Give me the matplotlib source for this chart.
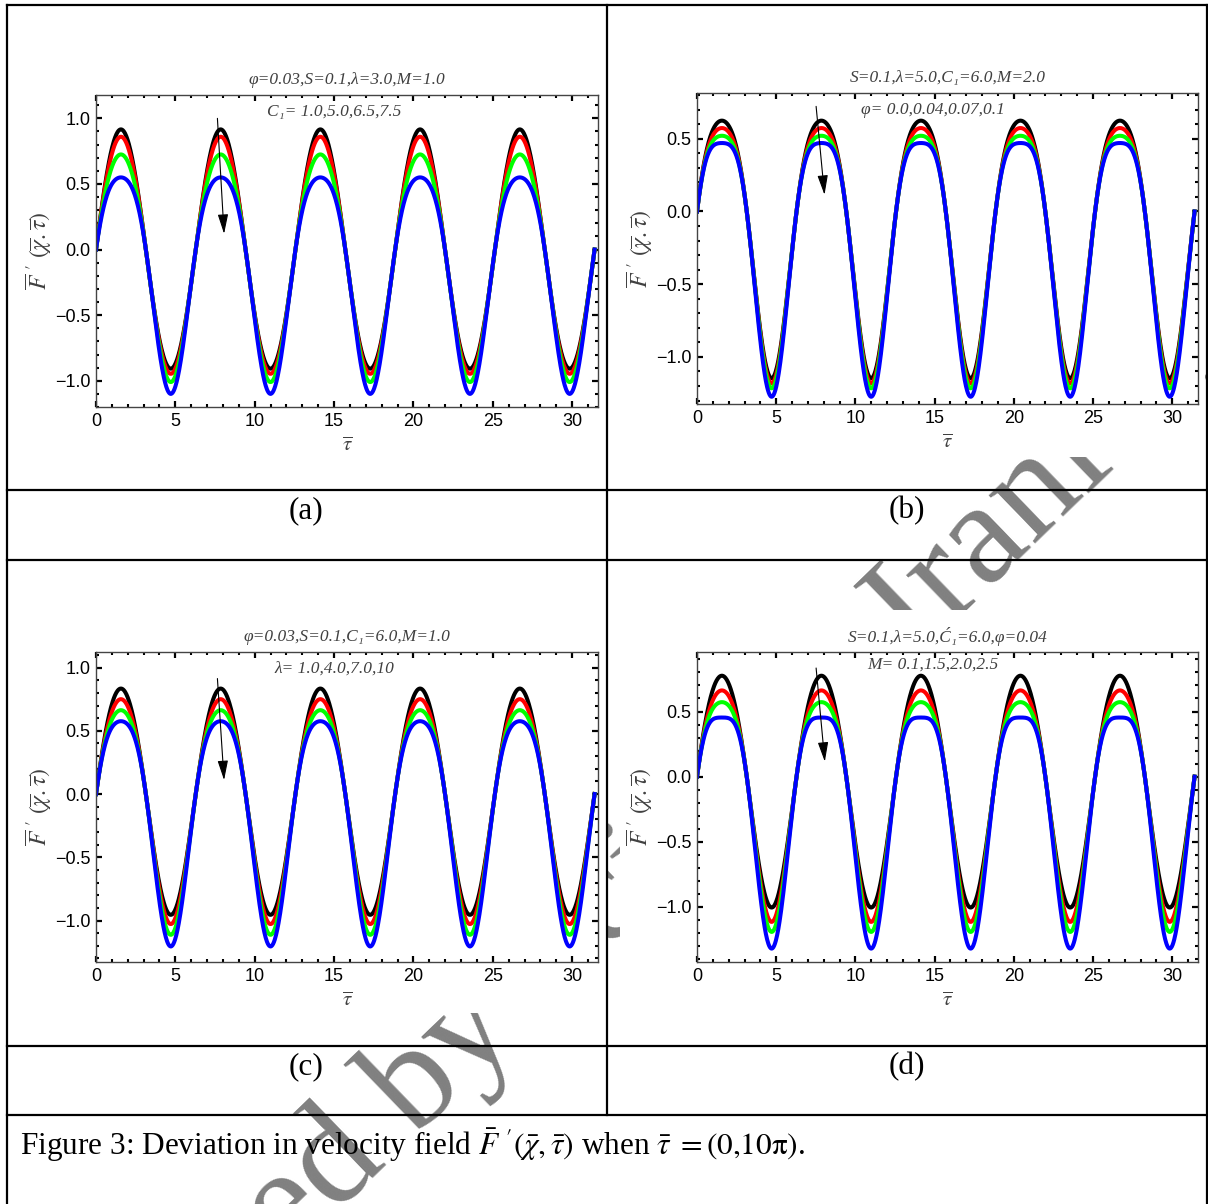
import numpy as np
import matplotlib
matplotlib.use("Agg")
import matplotlib.pyplot as plt
from matplotlib.patches import Rectangle
from matplotlib.ticker import MultipleLocator

plt.rcParams["mathtext.fontset"] = "stix"
plt.rcParams["font.family"] = ["Liberation Sans", "DejaVu Sans"]

W, H = 1208, 1204
SERIF = ["Liberation Serif", "DejaVu Serif"]

# peak / trough values of each curve (black, red, green, blue)
peak_a = [0.916, 0.86, 0.725, 0.55]
trough_a = [-0.908, -0.947, -1.01, -1.10]
peak_b = [0.625, 0.574, 0.521, 0.471]
trough_b = [-1.147, -1.182, -1.216, -1.274]
peak_c = [0.834, 0.75, 0.663, 0.576]
trough_c = [-0.955, -1.028, -1.113, -1.205]
peak_d = [0.775, 0.662, 0.572, 0.454]
trough_d = [-1.005, -1.115, -1.192, -1.32]

curve_colors = ["#000000", "#ff0000", "#00ff00", "#0000ff"]

titles = [
    "φ=0.03,S=0.1,λ=3.0,M=1.0",
    "S=0.1,λ=5.0,C₁=6.0,M=2.0",
    "φ=0.03,S=0.1,C₁=6.0,M=1.0",
    "S=0.1,λ=5.0,Ć₁=6.0,φ=0.04",
]
param_labels = [
    "C₁= 1.0,5.0,6.5,7.5",
    "φ= 0.0,0.04,0.07,0.1",
    "λ= 1.0,4.0,7.0,10",
    "M= 0.1,1.5,2.0,2.5",
]
panel_tags = ["(a)", "(b)", "(c)", "(d)"]
ylims = [(-1.20, 1.178), (-1.324, 0.815), (-1.328, 1.123), (-1.423, 0.957)]
label_pos = [(15.0, 1.048), (14.9, 0.70), (15.0, 0.994), (14.9, 0.86)]
arrow_start = [(7.65, 1.0), (7.52, 0.723), (7.65, 0.913), (7.52, 0.834)]
arrow_end = [(8.07, 0.12), (8.05, 0.115), (8.07, 0.11), (8.07, 0.115)]

# frame boxes in pixels: left, top, right, bottom
frames = [(96, 95, 598, 407), (697, 93, 1198, 404),
          (96, 652, 598, 962), (697, 652, 1198, 962)]
tag_xy = [(306, 511), (907, 511), (306, 1067), (907, 1067)]

tau = np.linspace(0, 10 * np.pi, 1200)


def velocity(tau, peak, trough):
    amp = (peak - trough) / 2.0
    skew = -(peak + trough) / 2.0
    s = np.sin(tau)
    return amp * s - skew * s ** 2


def minus_fmt(v, pos):
    return f"{v:.1f}".replace("-", "\u2212")


fig = plt.figure(figsize=(W / 100, H / 100), dpi=100)

bg = fig.add_axes([0, 0, 1, 1])
bg.set_xlim(0, W)
bg.set_ylim(H, 0)
bg.axis("off")
bg.set_zorder(-1)

# watermark, partly covered by the figure images
theta = 44
ux, uy = np.cos(np.radians(theta)), -np.sin(np.radians(theta))
px, py = 915, 655
gap = 37
bg.text(px, py, "Iranica", rotation=theta, rotation_mode="anchor",
        ha="left", va="baseline", fontsize=106, family=SERIF,
        color="#808080", zorder=1)
bg.text(px - gap * ux, py - gap * uy, "Accepted by Scientia", rotation=theta,
        rotation_mode="anchor", ha="right", va="baseline", fontsize=106,
        family=SERIF, color="#808080", zorder=1)

# opaque image areas
for x0, y0, x1, y1 in [(10, 62, 605, 470), (612, 62, 1205, 457),
                       (10, 612, 606, 1013), (620, 610, 1205, 1013)]:
    bg.add_patch(Rectangle((x0, y0), x1 - x0, y1 - y0, facecolor="white",
                           edgecolor="none", zorder=2))

# table rules
lw = 1.6
bg.plot([7, W], [5, 5], color="black", lw=lw, zorder=3)
for yy in [490, 560, 1046, 1115]:
    bg.plot([7, W], [yy, yy], color="black", lw=lw, zorder=3)
bg.plot([7, 7], [5, H], color="black", lw=lw, zorder=3)
bg.plot([1206.5, 1206.5], [5, H], color="black", lw=lw, zorder=3)
bg.plot([607, 607], [5, 1115], color="black", lw=lw, zorder=3)

for tag, (tx, ty) in zip(panel_tags, tag_xy):
    bg.text(tx, ty, tag, ha="center", va="center", fontsize=22.5,
            family=SERIF, zorder=4)

bg.text(20, 1145,
        r"Figure 3: Deviation in velocity field $\bar{F}\ '\left(\bar{\chi},\bar{\tau}\right)$"
        r" when $\bar{\tau}\;=\left(0{,}10\mathrm{\pi}\right)$.",
        ha="left", va="center", fontsize=22.5, family=SERIF, zorder=4)

peaks = [peak_a, peak_b, peak_c, peak_d]
troughs = [trough_a, trough_b, trough_c, trough_d]

for i in range(4):
    l, t, r, b = frames[i]
    ax = fig.add_axes([l / W, 1 - b / H, (r - l) / W, (b - t) / H])
    ax.set_zorder(1)
    for pk, tr, col in zip(peaks[i], troughs[i], curve_colors):
        ax.plot(tau, velocity(tau, pk, tr), color=col, lw=2.9)
    ax.set_xlim(0, 31.63)
    ax.set_ylim(*ylims[i])
    ax.xaxis.set_major_locator(MultipleLocator(5))
    ax.xaxis.set_minor_locator(MultipleLocator(1))
    ax.yaxis.set_major_locator(MultipleLocator(0.5))
    ax.yaxis.set_minor_locator(MultipleLocator(0.1))
    ax.yaxis.set_major_formatter(matplotlib.ticker.FuncFormatter(minus_fmt))
    ax.tick_params(which="both", direction="in", top=True, right=True,
                   color="black", labelsize=13, pad=4)
    ax.tick_params(which="major", length=4, width=1.6)
    ax.tick_params(which="minor", length=2.2, width=1.5)
    for sp in ax.spines.values():
        sp.set_color("#444444")
        sp.set_linewidth(1.0)
    h = b - t
    w = r - l
    ax.text(0.5, 1 + 15 / h, titles[i], transform=ax.transAxes, ha="center",
            va="center", fontsize=12.5, style="italic", family=SERIF,
            color="#404040")
    ax.text(*label_pos[i], param_labels[i], ha="center", va="center",
            fontsize=12.5, style="italic", family=SERIF, color="#404040")
    ax.annotate("", xy=arrow_end[i], xytext=arrow_start[i],
                arrowprops=dict(arrowstyle="-|>,head_length=0.6,head_width=0.16",
                                color="black", lw=0.8, mutation_scale=20,
                                shrinkA=0, shrinkB=0))
    ax.set_xlabel(r"$\overline{\tau}$", fontsize=15, color="#404040", va="center")
    ax.xaxis.set_label_coords(0.5, -38 / h)
    ax.set_ylabel(r"$\overline{F}\ '\ (\overline{\chi}.\overline{\tau})$",
                  fontsize=17, color="#404040", va="center", ha="center")
    ax.yaxis.set_label_coords(-57 / w, 0.5)

fig.savefig("out.png", dpi=100)
